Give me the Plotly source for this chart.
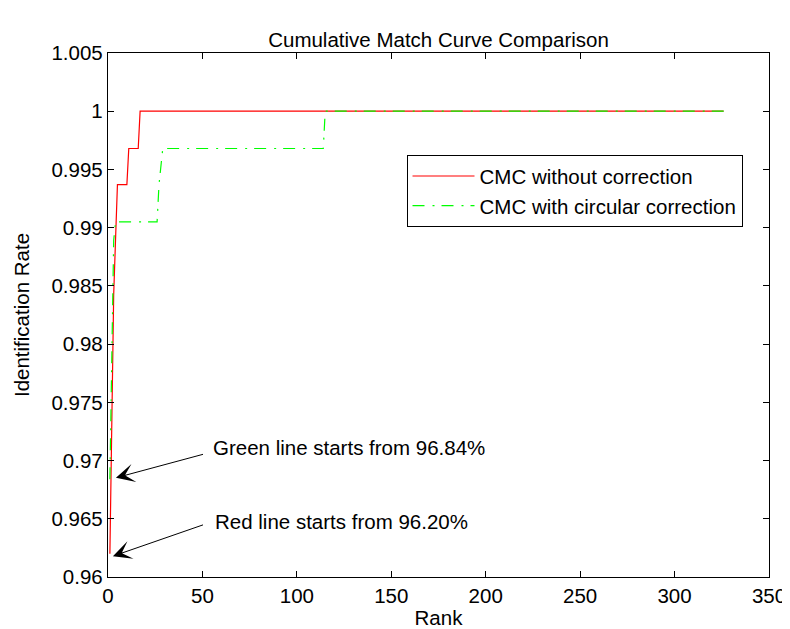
import plotly.graph_objects as go

# Ranks / identification rates (points where the curves change)
red_rank = [1, 2, 3, 4, 5, 10, 11, 16, 17, 326]
red_rate = [0.9620, 0.9747, 0.9842, 0.9890, 0.9937, 0.9937, 0.9968, 0.9968, 1.0, 1.0]

green_rank = [1, 2, 3, 4, 26, 27, 29, 114, 115, 326]
green_rate = [0.9684, 0.9794, 0.9889, 0.9905, 0.9905, 0.9937, 0.9968, 0.9968, 1.0, 1.0]

x_ticks = [0, 50, 100, 150, 200, 250, 300, 350]
y_ticks = [0.96, 0.965, 0.97, 0.975, 0.98, 0.985, 0.99, 0.995, 1.0, 1.005]
y_ticktext = ["0.96", "0.965", "0.97", "0.975", "0.98", "0.985", "0.99", "0.995", "1", "1.005"]

FONT = "Liberation Sans, Arial, Helvetica, sans-serif"
FS = 20.5

fig = go.Figure()
fig.add_trace(go.Scatter(x=red_rank, y=red_rate, mode="lines",
                         name="CMC without correction",
                         line=dict(color="#FF0000", width=1.2)))
fig.add_trace(go.Scatter(x=green_rank, y=green_rate, mode="lines",
                         name="CMC with circular correction",
                         line=dict(color="#00FF00", width=1.2, dash="12px,8px,2px,7px")))

axis_common = dict(showline=True, linecolor="black", linewidth=1.3, mirror="ticks",
                   ticks="inside", ticklen=6, tickcolor="black", tickwidth=1,
                   showgrid=False, zeroline=False,
                   tickfont=dict(family=FONT, size=FS, color="black"))

fig.update_xaxes(range=[0, 350], tickvals=x_ticks,
                 title=dict(text="Rank", font=dict(family=FONT, size=FS, color="black"), standoff=4),
                 **axis_common)
fig.update_yaxes(range=[0.96, 1.005], tickvals=y_ticks, ticktext=y_ticktext,
                 title=dict(text="Identification Rate", font=dict(family=FONT, size=FS, color="black"), standoff=16),
                 **axis_common)

# arrows
arrow_style = dict(showarrow=True, arrowhead=3, arrowsize=3.1, arrowwidth=1,
                   arrowcolor="black", axref="x", ayref="y", xref="x", yref="y", text="")
fig.add_annotation(x=4.2, y=0.96852, ax=51.1, ay=0.97057, **arrow_style)
fig.add_annotation(x=2.6, y=0.96179, ax=51.1, ay=0.96452, **arrow_style)

fig.add_annotation(x=54.8, y=0.97108, text="Green line starts from 96.84%", showarrow=False,
                   xanchor="left", yanchor="middle",
                   font=dict(family=FONT, size=FS, color="black"))
fig.add_annotation(x=55.8, y=0.96477, text="Red line starts from 96.20%", showarrow=False,
                   xanchor="left", yanchor="middle",
                   font=dict(family=FONT, size=FS, color="black"))

fig.update_layout(
    width=790, height=629,
    margin=dict(l=100, r=19, t=45, b=56),
    paper_bgcolor="white", plot_bgcolor="white",
    title=dict(text="Cumulative Match Curve Comparison", x=0.5, xref="paper",
               y=1, yref="paper", yanchor="bottom", pad=dict(b=6),
               font=dict(family=FONT, size=FS, color="black")),
    legend=dict(x=0.4516, y=0.805, xanchor="left", yanchor="top",
                bordercolor="black", borderwidth=1, bgcolor="white",
                font=dict(family=FONT, size=FS, color="black"),
                itemwidth=62, tracegroupgap=0),
    showlegend=True,
)

fig.write_html("out.html")
